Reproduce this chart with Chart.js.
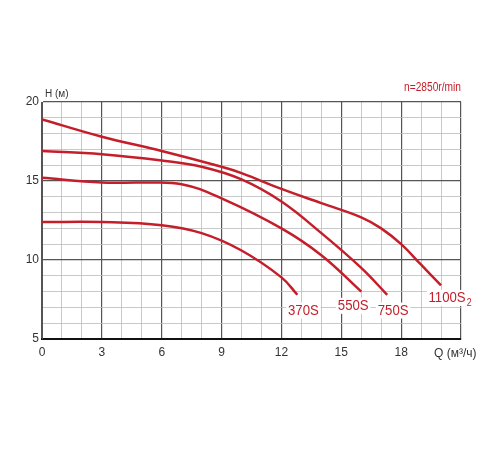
<!DOCTYPE html><html><head><meta charset="utf-8"><script src="https://cdn.jsdelivr.net/npm/chart.js@4"></script>
<style>body{margin:0;background:#fff}#w{width:500px;height:450px}</style></head><body><div id="w"><canvas id="c"></canvas></div>
<script>
const seriesNames=['1100S₂','750S','550S','370S'];
const s1100=[[0,18.9],[3,17.8],[6,16.9],[9,15.9],[10,15.5],[12,14.5],[14,13.6],[16,12.7],[17,12.0],[18,11.0],[19,9.7],[20,8.4]];
const s750=[[0,16.9],[3,16.7],[6,16.3],[8,15.9],[10,15.1],[12,13.7],[14,11.7],[16,9.5],[17.3,7.8]];
const s550=[[0,15.2],[3,14.9],[5,14.9],[7,14.8],[9,13.9],[12,12.0],[14,10.3],[16,8.0]];
const s370=[[0,12.4],[3,12.4],[6,12.2],[8,11.7],[10,10.6],[12,8.9],[12.8,7.8]];
const labelPos=[[20.3,7.6,'1100S'],[17.6,6.8,'750S'],[15.6,7.1,'550S'],[13.1,6.8,'370S']];
const RED='#c41e2a';
const all=[s1100,s750,s550,s370];
const F='"Liberation Sans", Arial, sans-serif';
const labels={id:'lbl',afterDatasetsDraw(ch){const c=ch.ctx,x=ch.scales.x,y=ch.scales.y;c.save();
c.fillStyle=RED;c.textAlign='center';c.textBaseline='middle';
labelPos.forEach(p=>{const px=x.getPixelForValue(p[0]),py=y.getPixelForValue(p[1]);
c.save();c.translate(px,py);c.scale(0.88,1);c.font='15px '+F;const w=c.measureText(p[2]).width;
c.fillStyle='#fff';c.fillRect(-w/2-2,-8,w+(p[2]==='1100S'?10:4),16);c.fillStyle=RED;c.fillText(p[2],0,0);
if(p[2]==='1100S'){c.font='10px '+F;c.fillText('2',w/2+4,5);}c.restore();});
c.save();c.translate(x.right,88);c.scale(0.85,1);c.font='12px '+F;c.fillStyle=RED;c.textAlign='right';c.fillText('n=2850r/min',0,0);c.restore();
c.fillStyle='#333';c.textAlign='left';c.font='10px '+F;c.fillText('H (м)',x.left+3,94);
c.font='12px '+F;c.fillText('Q (м³/ч)',x.right-27,y.bottom+15);
c.restore();}};
new Chart(document.getElementById('c'),{type:'scatter',
data:{datasets:all.map((s,i)=>({label:seriesNames[i],data:s.map(p=>({x:p[0],y:p[1]})),showLine:true,tension:0.4,borderColor:RED,borderWidth:2.5,pointRadius:0}))},
options:{responsive:true,maintainAspectRatio:false,animation:false,layout:{padding:{top:102,right:39,left:0,bottom:0}},
plugins:{legend:{display:false},tooltip:{enabled:false}},
scales:{x:{min:0,max:21,afterFit(a){a.height=111;},ticks:{stepSize:1,autoSkip:false,maxRotation:0,color:'#333',padding:6,font:{size:12,family:F},callback:v=>(v%3===0&&v<21)?v:''},
grid:{color:c=>c.tick&&c.tick.value%3===0?'#555':'#bbb',lineWidth:c=>c.tick&&c.tick.value%3===0?1.2:0.8,drawTicks:false},border:{color:'#111',width:2}},
y:{min:5,max:20,afterFit(a){a.width=42;},ticks:{stepSize:1,autoSkip:false,color:'#333',font:{size:12,family:F},padding:3,callback:v=>v%5===0?v:''},
grid:{color:c=>c.tick&&c.tick.value%5===0?'#555':'#bbb',lineWidth:c=>c.tick&&c.tick.value%5===0?1.2:0.8,drawTicks:false},border:{color:'#555'}}}},
plugins:[labels]});
</script></body></html>
